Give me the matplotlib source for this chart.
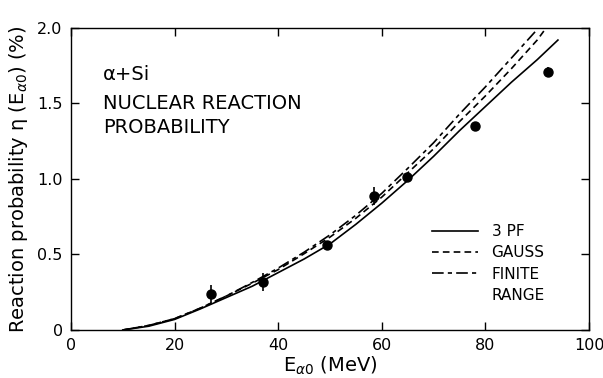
import matplotlib
matplotlib.use("Agg")
import matplotlib.pyplot as plt
from matplotlib.lines import Line2D

# ---- data ----
energy_grid = [10, 15, 20, 25, 30, 35, 40, 45, 50, 55, 60, 65, 70, 75, 80, 85, 90, 94]
pf3 = [0.0, 0.025, 0.07, 0.14, 0.215, 0.29, 0.38, 0.47, 0.57, 0.70, 0.84, 0.99,
       1.15, 1.32, 1.48, 1.64, 1.79, 1.92]

gauss_e = [10, 15, 20, 25, 30, 35, 40, 45, 50, 55, 60, 65, 70, 75, 80, 85, 90, 91.5]
gauss = [0.0, 0.03, 0.075, 0.145, 0.225, 0.31, 0.40, 0.505, 0.615, 0.74, 0.88, 1.04,
         1.20, 1.38, 1.55, 1.73, 1.92, 1.99]

finite_e = [10, 15, 20, 25, 30, 35, 40, 45, 50, 55, 60, 65, 70, 75, 80, 85, 89.6]
finite = [0.0, 0.03, 0.075, 0.145, 0.225, 0.315, 0.41, 0.515, 0.63, 0.76, 0.905, 1.07,
          1.24, 1.43, 1.61, 1.80, 1.975]

exp_e = [27.0, 37.0, 49.5, 58.5, 64.8, 78.0, 92.0]
exp_y = [0.24, 0.32, 0.56, 0.89, 1.01, 1.35, 1.71]
exp_err = [0.06, 0.06, 0.03, 0.06, 0.03, 0.03, 0.03]

x_ticks = [0, 20, 40, 60, 80, 100]
x_ticklabels = ["0", "20", "40", "60", "80", "100"]
y_ticks = [0, 0.5, 1.0, 1.5, 2.0]
y_ticklabels = ["0", "0.5", "1.0", "1.5", "2.0"]

legend_labels = ["3 PF", "GAUSS", "FINITE", "RANGE"]
annotation_lines = ["α+Si", "NUCLEAR REACTION", "PROBABILITY"]

# ---- figure ----
fig = plt.figure(figsize=(6.03, 3.78), dpi=100)
ax = fig.add_axes([0.1177, 0.127, 0.8591, 0.799])

lw = 1.2
l1, = ax.plot(energy_grid, pf3, color="black", lw=lw, ls="-")
l2, = ax.plot(gauss_e, gauss, color="black", lw=lw, ls=(0, (4, 2.5)))
l3, = ax.plot(finite_e, finite, color="black", lw=lw, ls=(0, (7, 2.5, 2.5, 2.5)))

ax.errorbar(exp_e, exp_y, yerr=exp_err, fmt="o", color="black", ms=6.5,
            elinewidth=1.2, capsize=0)

ax.set_xlim(0, 100)
ax.set_ylim(0, 2.0)
ax.set_xticks(x_ticks)
ax.set_xticklabels(x_ticklabels)
ax.set_yticks(y_ticks)
ax.set_yticklabels(y_ticklabels)
ax.tick_params(direction="in", length=6, width=1, top=True, right=True,
               labelsize=11.5, pad=6)

for s in ax.spines.values():
    s.set_linewidth(1.0)

ax.set_xlabel("E$_{α0}$ (MeV)", fontsize=14, labelpad=1)
ax.set_ylabel("Reaction probability η (E$_{α0}$) (%)", fontsize=14, labelpad=5)

# annotation text
ax.text(6.2, 1.69, annotation_lines[0], fontsize=14, va="center", ha="left")
ax.text(6.2, 1.50, annotation_lines[1], fontsize=14, va="center", ha="left")
ax.text(6.2, 1.34, annotation_lines[2], fontsize=14, va="center", ha="left")

blank = Line2D([], [], color="none")
ax.legend([l1, l2, l3, blank], legend_labels, loc="upper left",
          bbox_to_anchor=(0.685, 0.37), frameon=False, fontsize=11,
          handlelength=3.0, handletextpad=0.9, labelspacing=0.4,
          borderaxespad=0)

fig.savefig("out.png", dpi=100)
